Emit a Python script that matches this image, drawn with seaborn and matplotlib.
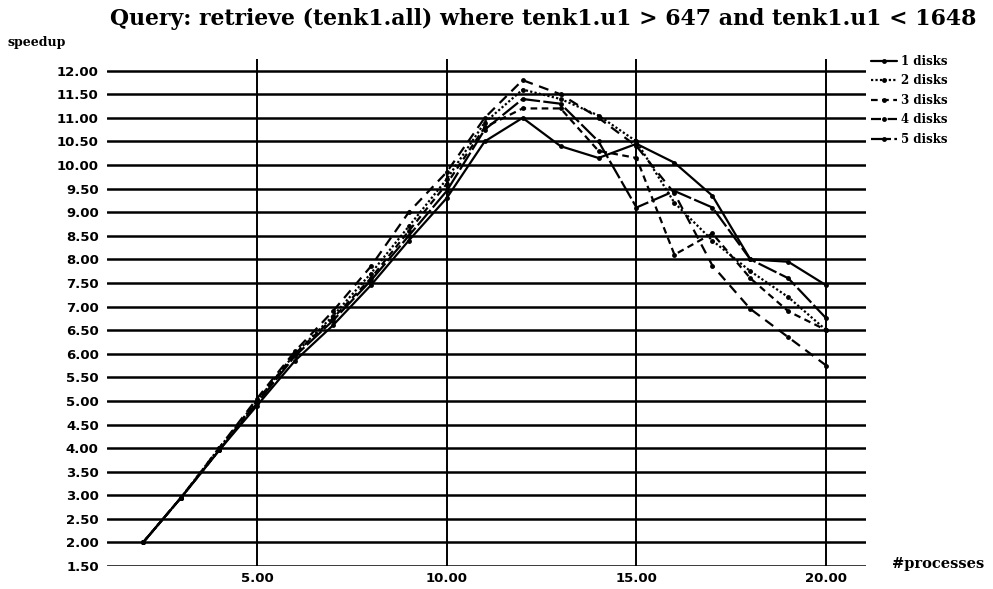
import numpy as np
import pandas as pd
import matplotlib
matplotlib.use("Agg")
import matplotlib.pyplot as plt
import seaborn as sns

# number of processes
processes = list(range(2, 21))

# speedup per disk count
disks_1 = [2.0, 2.95, 3.95, 4.9, 5.85, 6.6, 7.45, 8.4, 9.3, 10.5, 11.0, 10.4, 10.15, 10.45, 10.05, 9.35, 8.0, 7.95, 7.45]
disks_2 = [2.0, 2.95, 4.0, 5.0, 6.0, 6.8, 7.7, 8.7, 9.7, 10.9, 11.6, 11.4, 11.05, 10.5, 9.2, 8.4, 7.75, 7.2, 6.5]
disks_3 = [2.0, 2.95, 3.95, 5.0, 6.0, 6.75, 7.6, 8.6, 9.6, 10.8, 11.2, 11.2, 10.3, 10.15, 8.1, 8.55, 7.6, 6.9, 6.5]
disks_4 = [2.0, 2.95, 4.0, 5.05, 6.05, 6.9, 7.85, 9.0, 9.85, 11.0, 11.8, 11.5, 11.0, 10.4, 9.4, 7.87, 6.95, 6.35, 5.75]
disks_5 = [2.0, 2.95, 3.95, 4.95, 5.95, 6.7, 7.55, 8.5, 9.45, 10.75, 11.4, 11.3, 10.5, 9.1, 9.45, 9.1, 8.0, 7.6, 6.75]

labels = ["1 disks", "2 disks", "3 disks", "4 disks", "5 disks"]
series = [disks_1, disks_2, disks_3, disks_4, disks_5]

df = pd.concat([pd.DataFrame({"processes": processes, "speedup": s, "disks": lab})
                for lab, s in zip(labels, series)], ignore_index=True)

sns.set_style("white", {"text.color": "black", "xtick.color": "black",
                        "ytick.color": "black"})

fig = plt.figure(figsize=(9.93, 5.89), dpi=100)
ax = fig.add_axes([0.1078, 0.039, 0.7644, 0.861])

# grid lines drawn first (thick black rules)
yticks = np.arange(1.5, 12.01, 0.5)
for yv in yticks:
    ax.axhline(yv, color="black", lw=1.8, zorder=1)
for xv in [5, 10, 15, 20]:
    ax.axvline(xv, color="black", lw=1.4, zorder=1)

dash_map = {"1 disks": "", "2 disks": (1, 1), "3 disks": (3, 2),
            "4 disks": (4.5, 3), "5 disks": (9, 1.5)}
sns.lineplot(data=df, x="processes", y="speedup", style="disks",
             dashes=dash_map, markers={l: "o" for l in labels},
             color="black", lw=1.6, markersize=3.5, markeredgewidth=0,
             ax=ax, zorder=3)

ax.set_xlim(1.05, 21.05)
ax.set_ylim(1.5, 12.25)
ax.set_yticks(yticks)
ax.set_yticklabels([f"{v:.2f}" for v in yticks], fontsize=9.5, fontweight="bold")
ax.set_xticks([5, 10, 15, 20])
ax.set_xticklabels(["5.00", "10.00", "15.00", "20.00"], fontsize=9.5, fontweight="bold")
ax.tick_params(length=0, pad=6)
ax.tick_params(axis="x", pad=4)
ax.set_xlabel("")
ax.set_ylabel("")
for sp in ax.spines.values():
    sp.set_visible(False)

handles, labs = ax.get_legend_handles_labels()
ax.get_legend().remove()
fig.legend(handles, labs, loc="upper left", bbox_to_anchor=(0.866, 0.925),
           frameon=False, handlelength=2.2, handletextpad=0.4, labelspacing=0.55,
           prop={"family": "DejaVu Serif", "weight": "bold", "size": 8.5})

fig.text(0.111, 0.968, "Query: retrieve (tenk1.all) where tenk1.u1 > 647 and tenk1.u1 < 1648",
         fontsize=15.8, fontweight="bold", family="DejaVu Serif", va="center")
fig.text(0.008, 0.928, "speedup", fontsize=9, fontweight="bold",
         family="DejaVu Serif", va="center")
fig.text(0.898, 0.043, "#processes", fontsize=10.5, fontweight="bold",
         family="DejaVu Serif", va="center")

fig.savefig("out.png", dpi=100)
